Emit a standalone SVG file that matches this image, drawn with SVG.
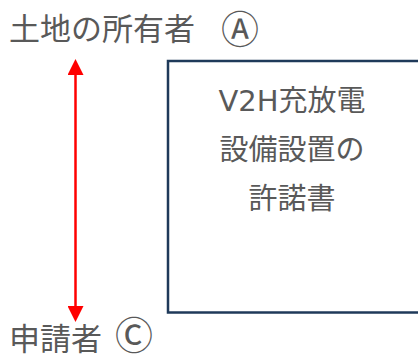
<svg xmlns="http://www.w3.org/2000/svg" width="418" height="358" viewBox="0 0 418 358">
<style>
.lbl{font-family:"Noto Sans CJK JP","Noto Sans",sans-serif;fill:#595959;}
.lat{font-family:"DejaVu Sans","Noto Sans CJK JP",sans-serif;}
.big{font-size:31px;}
.circ{font-size:38px;}
.box{fill:#fff;stroke:#1f3a5a;stroke-width:2.5;}
.bt{font-size:29px;text-anchor:middle;}
</style>
<defs>
<marker id="ah" viewBox="0 0 16 16" refX="16" refY="8" markerWidth="16" markerHeight="16" markerUnits="userSpaceOnUse" orient="auto">
<path d="M0,0 L16,8 L0,16 Z" fill="#ff0000"/>
</marker>
</defs>
<rect width="418" height="358" fill="#fff"/>
<g id="owner">
<text class="lbl big" x="9" y="40">土地の所有者</text>
<text class="lbl circ" x="221" y="43">Ⓐ</text>
</g>
<g id="applicant">
<text class="lbl big" x="9" y="350">申請者</text>
<text class="lbl circ" x="115" y="349">Ⓒ</text>
</g>
<g id="document">
<rect class="box" x="168" y="61" width="262" height="251.5"/>
<text class="lbl bt" x="292" y="111"><tspan class="lat">V2H</tspan>充放電</text>
<text class="lbl bt" x="292" y="160">設備設置の</text>
<text class="lbl bt" x="292" y="209">許諾書</text>
</g>
<g id="connectors">
<line x1="75.5" y1="75" x2="75.5" y2="307" stroke="#ff0000" stroke-width="2.5"/>
<line x1="75.5" y1="190" x2="75.5" y2="59" stroke="none" marker-end="url(#ah)"/>
<line x1="75.5" y1="190" x2="75.5" y2="322" stroke="none" marker-end="url(#ah)"/>
</g>
</svg>
